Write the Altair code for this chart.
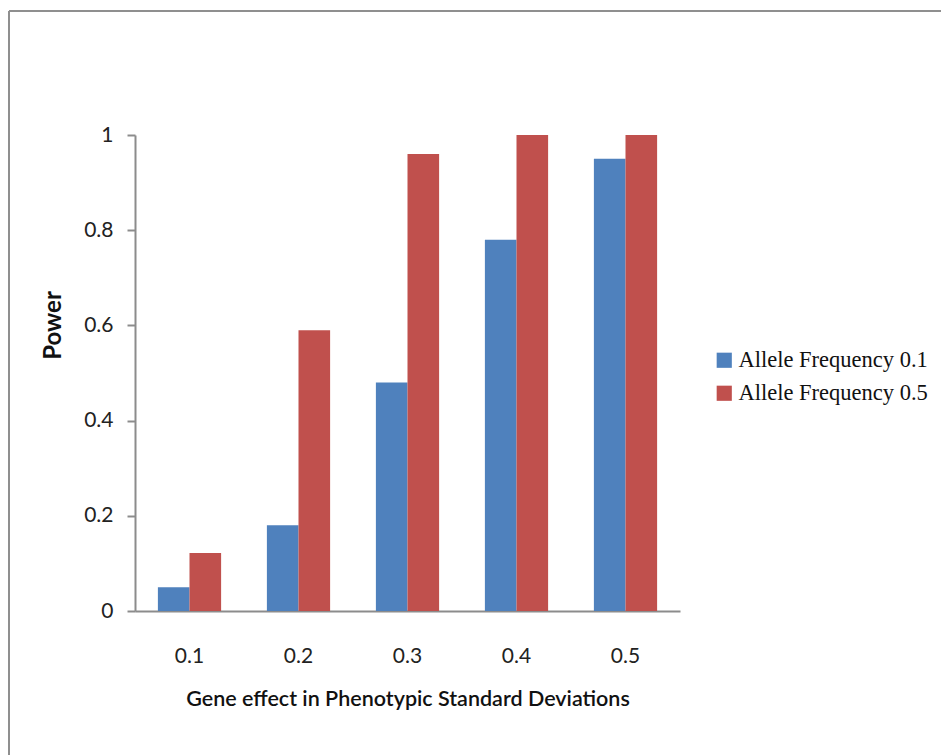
import altair as alt
import pandas as pd

effects = ["0.1", "0.2", "0.3", "0.4", "0.5"]
series = ["Allele Frequency 0.1", "Allele Frequency 0.5"]
power_af01 = [0.05, 0.18, 0.48, 0.78, 0.95]
power_af05 = [0.122, 0.59, 0.96, 1.0, 1.0]
colors = ["#4F81BD", "#C0504D"]

rows = []
for e, v in zip(effects, power_af01):
    rows.append({"effect": e, "series": series[0], "power": v})
for e, v in zip(effects, power_af05):
    rows.append({"effect": e, "series": series[1], "power": v})
df = pd.DataFrame(rows)

AXIS_GRAY = "#8c8c8c"

bars = alt.Chart(df).mark_bar().encode(
    x=alt.X("effect:N", sort=effects,
            scale=alt.Scale(paddingInner=0.42, paddingOuter=0.21),
            axis=alt.Axis(title="Gene effect in Phenotypic Standard Deviations",
                          labelAngle=0, ticks=False, labelPadding=34,
                          titlePadding=22, domainColor=AXIS_GRAY, domainWidth=2,
                          labelFont="Lato", labelFontSize=21, labelColor="#222",
                          titleFont="Lato", titleFontSize=21.5, titleFontWeight=600,
                          titleColor="#111")),
    xOffset=alt.XOffset("series:N", sort=series),
    y=alt.Y("power:Q", scale=alt.Scale(domain=[0, 1], nice=False),
            axis=alt.Axis(title="Power", values=[0, 0.2, 0.4, 0.6, 0.8, 1.0],
                          format="~g", grid=False, tickSize=8, tickWidth=2,
                          tickColor=AXIS_GRAY, domainColor=AXIS_GRAY, domainWidth=2,
                          labelPadding=14, labelFont="Lato", labelFontSize=21,
                          labelColor="#222", titleFont="Lato", titleFontSize=24,
                          titleFontWeight=700, titleColor="#111",
                          titleX=-82, titleY=190, titleAngle=270,
                          titleBaseline="middle", titleAlign="center")),
    color=alt.Color("series:N", sort=series,
                    scale=alt.Scale(domain=series, range=colors),
                    legend=alt.Legend(title=None, orient="none", legendX=578,
                                      legendY=214, symbolType="square",
                                      symbolSize=230, symbolStrokeWidth=0,
                                      symbolOpacity=1,
                                      labelFont="Liberation Serif",
                                      labelFontSize=22.5, labelColor="#111",
                                      labelOffset=3, rowPadding=10,
                                      labelLimit=400)),
)

frame_top = alt.Chart(df).mark_rule(color="#8f8f8f", strokeWidth=2).encode(
    x=alt.value(-126), x2=alt.value(820), y=alt.value(-124)
)
frame_left = alt.Chart(df).mark_rule(color="#8f8f8f", strokeWidth=2).encode(
    x=alt.value(-126), y=alt.value(-124), y2=alt.value(630)
)

chart = alt.layer(bars, frame_top, frame_left).properties(
    width=545, height=476,
    autosize=alt.AutoSizeParams(type="none"),
    padding={"left": 135, "top": 135, "right": 261, "bottom": 144},
    background="white",
).configure_view(stroke=None)

chart.save("out.html", embed_options={"renderer": "svg", "actions": False})
